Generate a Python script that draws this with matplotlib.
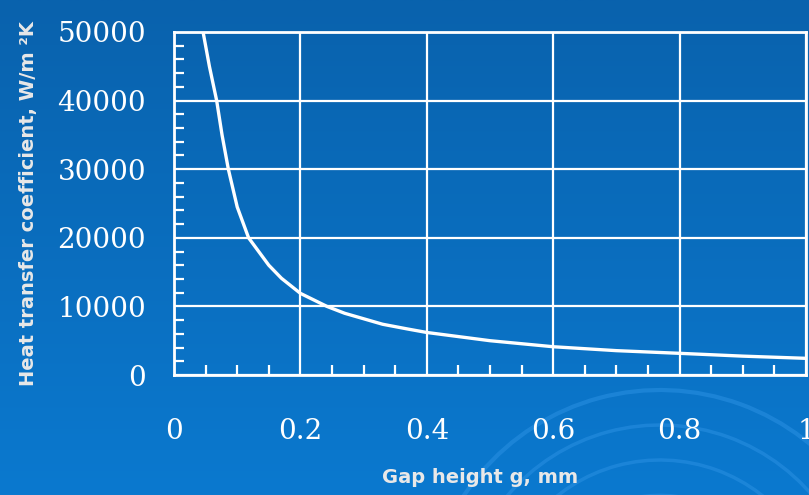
import numpy as np
import matplotlib
matplotlib.use("Agg")
import matplotlib.pyplot as plt
from matplotlib.patches import Arc
from matplotlib.ticker import MultipleLocator

# values
gap_mm = [0.046, 0.056, 0.0675, 0.076, 0.086, 0.10, 0.118, 0.13, 0.15,
          0.17, 0.2, 0.242, 0.27, 0.3, 0.33, 0.37, 0.4, 0.5, 0.6, 0.7, 0.8,
          0.9, 1.0]
htc = [50000, 45000, 40000, 35000, 30000, 24500, 20000, 18500, 16000,
       14100, 11900, 10000, 9000, 8200, 7400, 6700, 6200, 5000, 4120, 3550,
       3160, 2750, 2430]

x_ticks = [0, 0.2, 0.4, 0.6, 0.8, 1]
x_labels = ["0", "0.2", "0.4", "0.6", "0.8", "1"]
y_ticks = [0, 10000, 20000, 30000, 40000, 50000]

W, H = 809, 495
fig = plt.figure(figsize=(W / 100, H / 100), dpi=100)

# background gradient + faint arcs (pixel coords, y up)
bg = fig.add_axes([0, 0, 1, 1], zorder=-10)
grad = np.linspace(0, 1, 200)[:, None]
cmap = matplotlib.colors.LinearSegmentedColormap.from_list("bg", ["#0962ad", "#0b79cf"])
bg.imshow(grad, aspect="auto", cmap=cmap, extent=[0, W, 0, H])
for r, lw in [(235, 3), (200, 2.5), (165, 2.5), (130, 2)]:
    bg.add_patch(Arc((660, -130), 2 * r, 2 * r, theta1=35, theta2=175,
                     color="#2a90e2", lw=lw, alpha=0.55))
bg.set_xlim(0, W)
bg.set_ylim(0, H)
bg.axis("off")

ax = fig.add_axes([174 / W, 1 - 375 / H, 632 / W, 343 / H])
ax.set_facecolor("none")
ax.plot(gap_mm, htc, color="white", lw=2.4, solid_joinstyle="round")

ax.set_xlim(0, 1)
ax.set_ylim(0, 50000)
ax.set_xticks(x_ticks)
ax.set_xticklabels(x_labels)
ax.set_yticks(y_ticks)
ax.xaxis.set_minor_locator(MultipleLocator(0.05))
ax.yaxis.set_minor_locator(MultipleLocator(2000))
ax.grid(True, which="major", color="white", lw=1.6)

for s in ax.spines.values():
    s.set_color("white")
    s.set_linewidth(2)

ax.tick_params(which="both", direction="in", color="white", width=1.6,
               labelcolor="white", labelsize=20)
ax.tick_params(which="major", length=0)
ax.tick_params(which="minor", length=7)
ax.tick_params(axis="x", which="both", pad=31, top=False)
ax.tick_params(axis="y", which="both", pad=20, right=False)
for lab in ax.get_xticklabels() + ax.get_yticklabels():
    lab.set_family("DejaVu Serif")

ax.set_xlabel("Gap height g, mm", color="#e8e8e8", fontsize=14, fontweight="bold", labelpad=12)
ax.xaxis.set_label_coords(0.485, -0.27)
ax.set_ylabel("Heat transfer coefficient, W/m ²K", color="#e8e8e8", fontsize=14,
              fontweight="bold", labelpad=14)

fig.savefig("out.png", dpi=100)
